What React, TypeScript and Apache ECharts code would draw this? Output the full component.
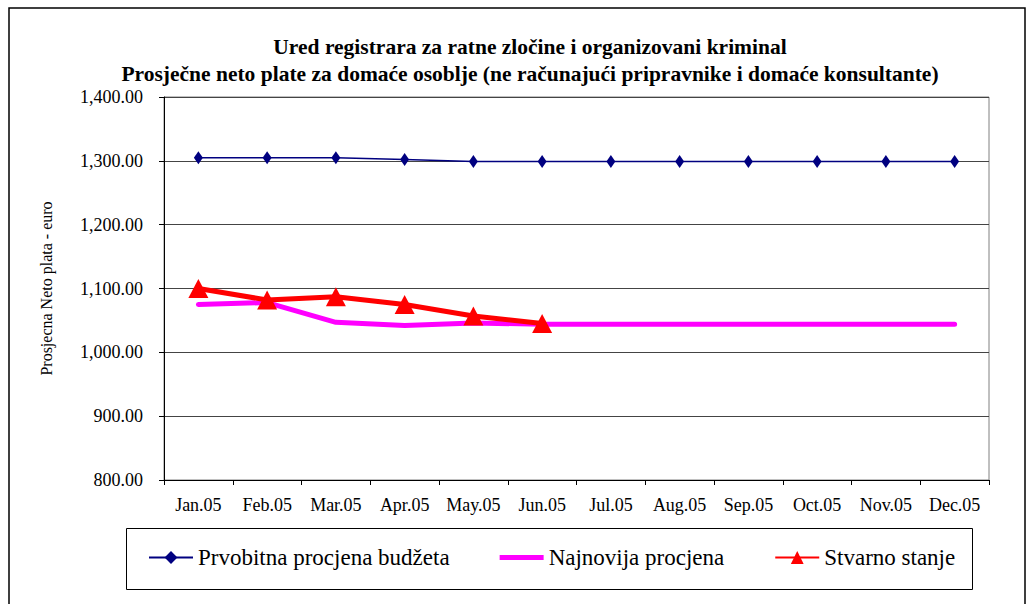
import React, { useEffect, useRef } from "react";
import * as echarts from "echarts";

const months = ["Jan.05", "Feb.05", "Mar.05", "Apr.05", "May.05", "Jun.05", "Jul.05", "Aug.05", "Sep.05", "Oct.05", "Nov.05", "Dec.05"];
const prvobitna = [1305, 1305, 1305, 1302, 1299, 1299, 1299, 1299, 1299, 1299, 1299, 1299];
const najnovija = [1075, 1078, 1047, 1042, 1046, 1044, 1044, 1044, 1044, 1044, 1044, 1044];
const stvarno = [1100, 1082, 1087, 1075, 1057, 1045];

const titleLines = [
  "Ured registrara za ratne zločine i organizovani kriminal",
  "Prosječne neto plate za domaće osoblje (ne računajući pripravnike i domaće konsultante)",
];
const seriesNames = ["Prvobitna procjena budžeta", "Najnovija procjena", "Stvarno stanje"];
const yAxisName = "Prosjecna Neto plata - euro";

const FONT = "Liberation Serif";

export default function App() {
  const ref = useRef<HTMLDivElement>(null);
  useEffect(() => {
    if (!ref.current) return;
    const chart = echarts.init(ref.current, null, { renderer: "svg" });
    chart.setOption({
      animation: false,
      backgroundColor: "#fff",
      textStyle: { fontFamily: FONT },
      title: {
        text: titleLines.join("\n"),
        left: 525,
        textAlign: "center",
        top: 28,
        textStyle: { fontFamily: FONT, fontSize: 21.5, fontWeight: "bold", color: "#000", lineHeight: 27 },
      },
      graphic: [
        {
          type: "rect",
          shape: { x: 9, y: 8, width: 1016, height: 610 },
          style: { fill: "none", stroke: "#000", lineWidth: 1.5 },
          silent: true,
        },
        {
          type: "rect",
          shape: { x: 126.5, y: 528.5, width: 846, height: 61 },
          style: { fill: "none", stroke: "#000", lineWidth: 1 },
          silent: true,
        },
      ],
      legend: {
        data: [
          { name: seriesNames[0] },
          { name: seriesNames[1], icon: "path://M0,0H44V5H0Z" },
          { name: seriesNames[2] },
        ],
        left: 148,
        top: 546,
        padding: 0,
        itemGap: 50,
        itemWidth: 44,
        itemHeight: 16,
        textStyle: { fontFamily: FONT, fontSize: 23, color: "#000" },
      },
      grid: {
        left: 164,
        right: 44,
        top: 97,
        bottom: 124,
        show: true,
        borderColor: "#808080",
        borderWidth: 1,
      },
      xAxis: {
        type: "category",
        data: months,
        boundaryGap: true,
        axisLine: { lineStyle: { color: "#000", width: 1 } },
        axisTick: { show: true, length: 5, interval: 0, lineStyle: { color: "#000" } },
        axisLabel: { fontFamily: FONT, fontSize: 18, color: "#000", margin: 16, interval: 0 },
      },
      yAxis: {
        type: "value",
        min: 800,
        max: 1400,
        interval: 100,
        name: yAxisName,
        nameLocation: "middle",
        nameGap: 110,
        nameTextStyle: { fontFamily: FONT, fontSize: 16, color: "#000" },
        axisLine: { show: true, lineStyle: { color: "#000", width: 1 } },
        axisTick: { show: true, length: 5, lineStyle: { color: "#000" } },
        axisLabel: {
          fontFamily: FONT,
          fontSize: 18,
          color: "#000",
          margin: 21,
          formatter: (v: number) =>
            v.toLocaleString("en-US", { minimumFractionDigits: 2, maximumFractionDigits: 2 }),
        },
        splitLine: { show: true, lineStyle: { color: "#444", width: 1 } },
      },
      series: [
        {
          name: seriesNames[0],
          type: "line",
          data: prvobitna,
          color: "#000080",
          lineStyle: { color: "#000080", width: 1.5 },
          symbol: "diamond",
          symbolSize: [9, 13],
          itemStyle: { color: "#000080" },
          z: 3,
        },
        {
          name: seriesNames[1],
          type: "line",
          data: najnovija,
          color: "#ff00ff",
          lineStyle: { color: "#ff00ff", width: 5, cap: "round" },
          symbol: "none",
          itemStyle: { color: "#ff00ff" },
          z: 2,
        },
        {
          name: seriesNames[2],
          type: "line",
          data: stvarno,
          color: "#ff0000",
          lineStyle: { color: "#ff0000", width: 5 },
          symbol: "triangle",
          symbolSize: [20, 19],
          itemStyle: { color: "#ff0000" },
          z: 4,
        },
      ],
    });
    return () => chart.dispose();
  }, []);
  return (
    <div
      ref={ref}
      style={{ position: "fixed", left: 0, top: 0, width: 1033, height: 604, background: "#fff" }}
    />
  );
}
